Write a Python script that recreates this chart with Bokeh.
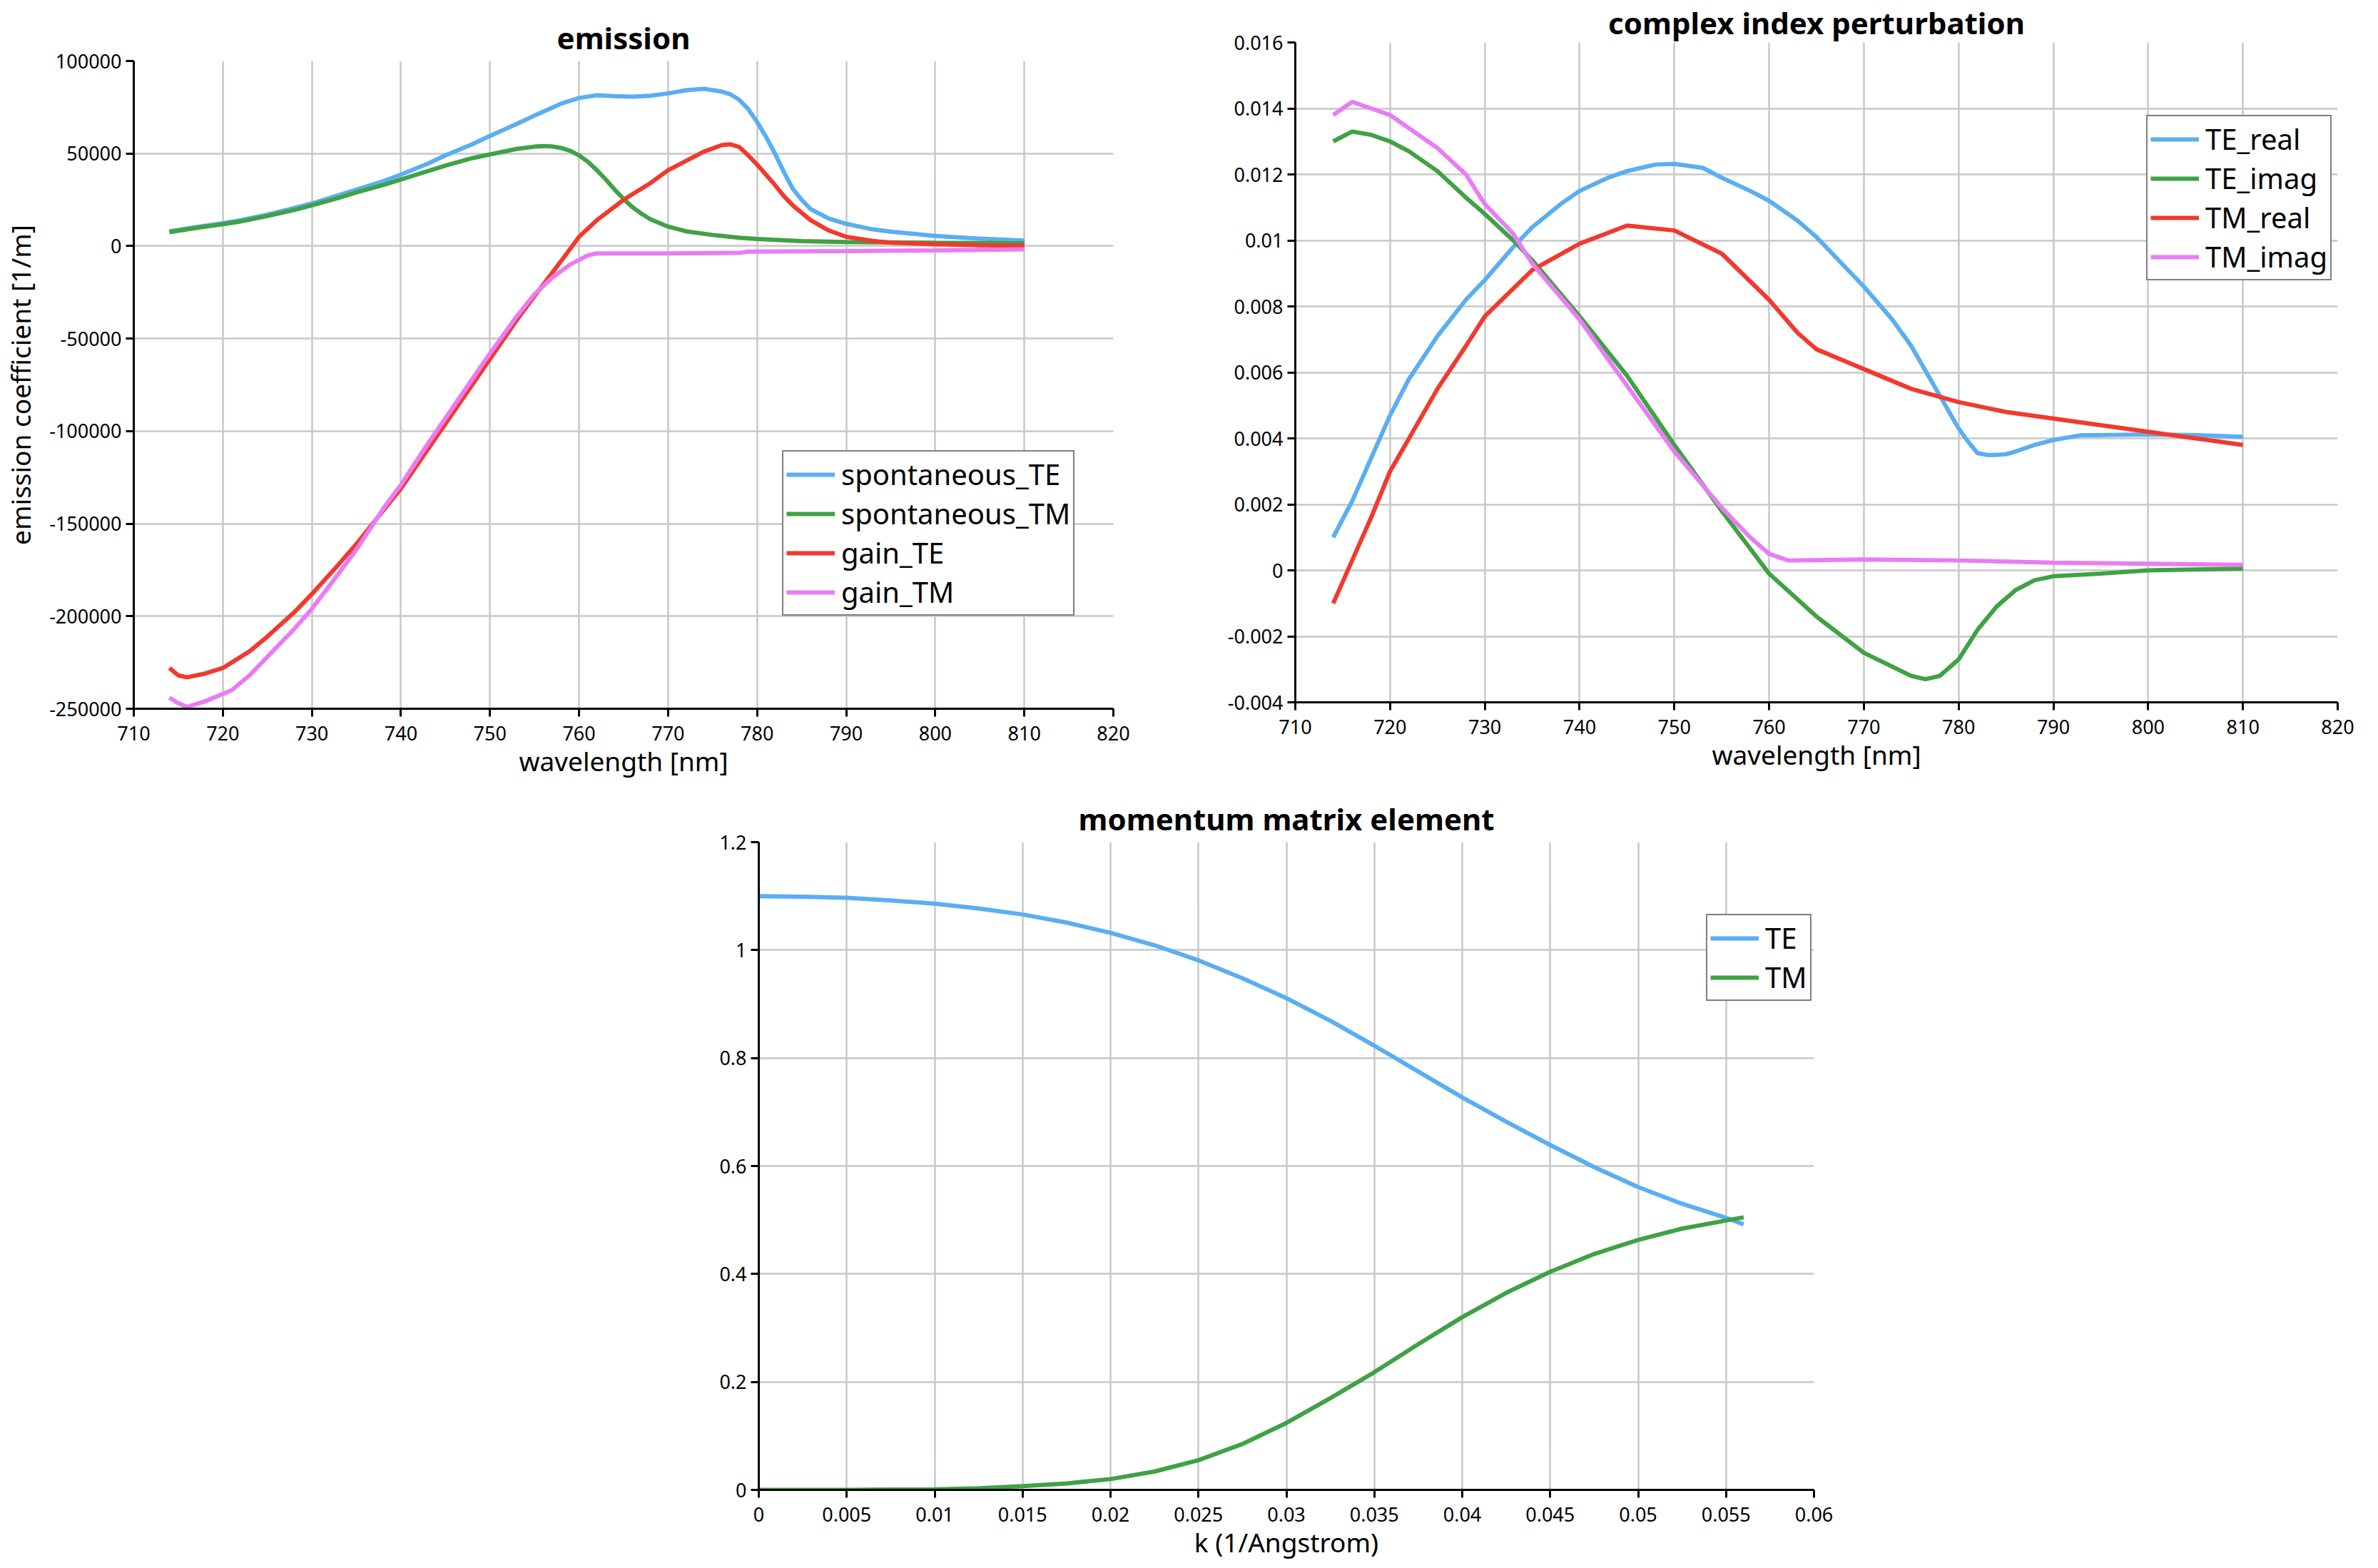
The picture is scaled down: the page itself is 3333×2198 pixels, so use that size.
from bokeh.plotting import figure
from bokeh.layouts import column, row
from bokeh.models import (Spacer, FixedTicker, CustomJSTickFormatter, Range1d,
                          Legend, LegendItem)
from bokeh.embed import file_html
from bokeh.resources import INLINE

# ---------------- emission ----------------
sp_te_x = [714, 716, 718, 720, 722, 725, 728, 730, 733, 735, 738, 740, 743, 745, 748,
           750, 753, 755, 758, 760, 762, 764, 766, 768, 770, 772, 774, 776, 777, 778,
           779, 780, 781, 782, 783, 784, 785, 786, 788, 790, 793, 795, 800, 805, 810]
sp_te_y = [8000, 9500, 11000, 12300, 14000, 17000, 20500, 23000, 27500, 30500, 35000,
           38600, 44500, 49000, 55000, 59500, 66000, 70500, 77000, 80000, 81500, 81000,
           80700, 81200, 82500, 84200, 85000, 83500, 82000, 79000, 74000, 67000, 59000,
           50000, 40000, 31000, 25000, 20000, 15000, 12000, 9000, 7800, 5500, 4000, 3000]

sp_tm_x = [714, 716, 718, 720, 722, 725, 728, 730, 733, 735, 738, 740, 743, 745, 748,
           750, 753, 755, 756, 757, 758, 759, 760, 761, 762, 763, 764, 765, 766, 767,
           768, 770, 772, 775, 778, 780, 785, 790, 800, 810]
sp_tm_y = [7500, 9000, 10500, 11800, 13300, 16200, 19500, 22000, 26000, 29000, 33000,
           36000, 40500, 43500, 47500, 49500, 52500, 53700, 54000, 53800, 53000, 51500,
           49000, 45500, 41000, 36000, 30500, 25500, 21000, 17500, 14500, 10500, 8000,
           6000, 4500, 3800, 2700, 2200, 1800, 1500]

g_te_x = [714, 715, 716, 718, 720, 721, 723, 725, 728, 730, 733, 735, 738, 740, 743,
          745, 748, 750, 753, 755, 758, 760, 762, 765, 768, 770, 772, 774, 776, 777,
          778, 779, 780, 781, 782, 783, 784, 786, 788, 790, 793, 795, 800, 805, 810]
g_te_y = [-228000, -232000, -233000, -231000, -228000, -225000, -219000, -211000,
          -198000, -188000, -172000, -161000, -143000, -131000, -110000, -96000, -75000,
          -61000, -40000, -27000, -8000, 5000, 14000, 25000, 34000, 41000, 46000, 51000,
          54500, 55000, 53500, 49000, 44000, 38500, 33000, 27000, 22000, 14000, 8500,
          5000, 2800, 1800, 1000, 500, 300]

g_tm_x = [714, 715, 716, 718, 720, 721, 723, 725, 728, 730, 733, 735, 738, 740, 743,
          745, 748, 750, 753, 755, 757, 759, 760, 761, 762, 770, 778, 779, 790, 800, 810]
g_tm_y = [-244000, -247000, -249000, -246000, -242000, -240000, -232000, -222000,
          -207000, -196000, -177000, -164000, -142000, -129000, -107000, -93000, -72000,
          -58000, -38000, -26000, -17000, -10000, -7500, -5000, -4000, -4000, -3600,
          -3000, -2700, -2300, -1800]

em_xticks = [710, 720, 730, 740, 750, 760, 770, 780, 790, 800, 810, 820]
em_yticks = [-250000, -200000, -150000, -100000, -50000, 0, 50000, 100000]

# ---------------- complex index perturbation ----------------
te_re_x = [714, 716, 718, 720, 722, 725, 728, 730, 733, 735, 738, 740, 743, 745, 748,
           750, 753, 755, 758, 760, 763, 765, 768, 770, 773, 775, 777, 779, 780, 781,
           782, 783, 784, 785, 786, 788, 790, 793, 795, 800, 805, 810]
te_re_y = [0.0010, 0.0021, 0.0034, 0.0047, 0.0058, 0.0071, 0.0082, 0.0088, 0.0098,
           0.0104, 0.0111, 0.0115, 0.0119, 0.0121, 0.0123, 0.01232, 0.0122, 0.0119,
           0.0115, 0.0112, 0.0106, 0.0101, 0.0092, 0.0086, 0.0076, 0.0068, 0.0058,
           0.0048, 0.0043, 0.0039, 0.00355, 0.0035, 0.0035, 0.00352, 0.0036, 0.0038,
           0.00395, 0.0041, 0.0041, 0.00412, 0.0041, 0.00405]

te_im_x = [714, 716, 718, 720, 722, 725, 728, 730, 733, 735, 740, 745, 750, 755, 760,
           765, 770, 775, 776.5, 778, 780, 782, 784, 786, 788, 790, 795, 800, 810]
te_im_y = [0.0130, 0.0133, 0.0132, 0.0130, 0.0127, 0.0121, 0.0113, 0.0108, 0.0100,
           0.0094, 0.0077, 0.0059, 0.0038, 0.0018, -0.0001, -0.0014, -0.0025, -0.0032,
           -0.0033, -0.0032, -0.0027, -0.0018, -0.0011, -0.0006, -0.0003, -0.00018,
           -0.0001, 0.0, 0.00005]

tm_re_x = [714, 716, 718, 720, 722, 725, 728, 730, 735, 740, 745, 750, 755, 760, 763,
           765, 770, 775, 780, 785, 790, 795, 800, 805, 810]
tm_re_y = [-0.0010, 0.0003, 0.0016, 0.0030, 0.0040, 0.0055, 0.0068, 0.0077, 0.0091,
           0.0099, 0.01045, 0.0103, 0.0096, 0.0082, 0.0072, 0.0067, 0.0061, 0.0055,
           0.0051, 0.0048, 0.0046, 0.0044, 0.0042, 0.0040, 0.0038]

tm_im_x = [714, 716, 718, 720, 722, 725, 728, 730, 733, 735, 740, 745, 750, 755, 758,
           760, 762, 770, 780, 790, 800, 810]
tm_im_y = [0.0138, 0.0142, 0.0140, 0.0138, 0.0134, 0.0128, 0.0120, 0.0111, 0.0102,
           0.0093, 0.0076, 0.0056, 0.0036, 0.0019, 0.0010, 0.0005, 0.0003, 0.00033,
           0.0003, 0.00023, 0.0002, 0.00017]

ci_xticks = [710, 720, 730, 740, 750, 760, 770, 780, 790, 800, 810, 820]
ci_yticks = [-0.004, -0.002, 0, 0.002, 0.004, 0.006, 0.008, 0.01, 0.012, 0.014, 0.016]

# ---------------- momentum matrix element ----------------
k_vals = [0, 0.0025, 0.005, 0.0075, 0.01, 0.0125, 0.015, 0.0175, 0.02, 0.0225, 0.025,
          0.0275, 0.03, 0.0325, 0.035, 0.0375, 0.04, 0.0425, 0.045, 0.0475, 0.05,
          0.0525, 0.055, 0.056]
mm_te = [1.100, 1.099, 1.097, 1.092, 1.086, 1.077, 1.066, 1.051, 1.032, 1.009, 0.981,
         0.948, 0.911, 0.869, 0.823, 0.775, 0.727, 0.682, 0.639, 0.598, 0.561, 0.530,
         0.504, 0.492]
mm_tm = [0.0, 0.0, 0.0, 0.0005, 0.001, 0.003, 0.007, 0.012, 0.020, 0.034, 0.055,
         0.085, 0.124, 0.170, 0.218, 0.270, 0.320, 0.365, 0.404, 0.437, 0.463, 0.484,
         0.499, 0.505]

mm_xticks = [0, 0.005, 0.01, 0.015, 0.02, 0.025, 0.03, 0.035, 0.04, 0.045, 0.05, 0.055, 0.06]
mm_yticks = [0, 0.2, 0.4, 0.6, 0.8, 1, 1.2]

BLUE = "#5aaef2"
GREEN = "#3fa244"
RED = "#f2392e"
VIOLET = "#e97cf5"
FONT = "Noto Sans"
LW = 6


def make_fig(title, xr, yr, xticks, yticks, w, h, bl, br, bt, bb, xlabel, ylabel=None,
             title_standoff=10):
    p = figure(width=w, height=h, x_range=Range1d(*xr), y_range=Range1d(*yr),
               output_backend="svg", toolbar_location=None,
               min_border_left=bl, min_border_right=br, min_border_top=bt,
               min_border_bottom=bb)
    p.outline_line_color = None
    p.background_fill_color = "white"
    p.border_fill_color = "white"
    p.title.text = title
    p.title.text_font = FONT
    p.title.text_font_size = "42px"
    p.title.text_font_style = "bold"
    p.title.align = "center"
    p.title.text_color = "black"
    p.title.standoff = title_standoff
    fmt = CustomJSTickFormatter(code="return String(tick);")
    for ax, ticks in ((p.xaxis[0], xticks), (p.yaxis[0], yticks)):
        ax.ticker = FixedTicker(ticks=ticks)
        ax.formatter = fmt
        ax.major_label_text_font = FONT
        ax.major_label_text_font_size = "27px"
        ax.major_label_text_color = "black"
        ax.axis_line_color = "black"
        ax.axis_line_width = 3
        ax.major_tick_line_color = "black"
        ax.major_tick_line_width = 3
        ax.major_tick_out = 11
        ax.major_tick_in = 0
        ax.minor_tick_line_color = None
        ax.axis_label_text_font = FONT
        ax.axis_label_text_font_size = "37px"
        ax.axis_label_text_font_style = "normal"
        ax.axis_label_text_color = "black"
    p.xaxis[0].major_label_standoff = 13
    p.xaxis[0].axis_label_standoff = 0
    p.yaxis[0].major_label_standoff = 6
    p.yaxis[0].axis_label_standoff = 12
    p.xaxis[0].axis_label = xlabel
    if ylabel:
        p.yaxis[0].axis_label = ylabel
    p.xgrid.ticker = FixedTicker(ticks=xticks[1:-1])
    p.ygrid.ticker = FixedTicker(ticks=yticks[1:-1])
    for g in (p.xgrid[0], p.ygrid[0]):
        g.grid_line_color = "#c8c8c8"
        g.grid_line_width = 2.5
    return p


def add_legend(p, items, loc):
    lg = Legend(items=items, location=loc)
    lg.label_text_font = FONT
    lg.label_text_font_size = "40px"
    lg.label_text_color = "black"
    lg.glyph_width = 68
    lg.glyph_height = 20
    lg.label_standoff = 9
    lg.padding = 4
    lg.spacing = 0
    lg.margin = 0
    lg.border_line_color = "black"
    lg.border_line_width = 2.5
    lg.background_fill_color = "white"
    lg.background_fill_alpha = 1
    p.add_layout(lg)


# emission
p1 = make_fig("emission", (710, 820), (-250000, 100000), em_xticks, em_yticks,
              1650, 1109, 187, 90, 85, 116, "wavelength [nm]", "emission coefficient [1/m]")
r1 = p1.line(sp_te_x, sp_te_y, line_color=BLUE, line_width=LW)
r2 = p1.line(sp_tm_x, sp_tm_y, line_color=GREEN, line_width=LW)
r3 = p1.line(g_te_x, g_te_y, line_color=RED, line_width=LW)
r4 = p1.line(g_tm_x, g_tm_y, line_color=VIOLET, line_width=LW)
add_legend(p1, [LegendItem(label="spontaneous_TE", renderers=[r1]),
                LegendItem(label="spontaneous_TM", renderers=[r2]),
                LegendItem(label="gain_TE", renderers=[r3]),
                LegendItem(label="gain_TM", renderers=[r4])], (909, 130))

# complex index perturbation
p2 = make_fig("complex index perturbation", (710, 820), (-0.004, 0.016), ci_xticks, ci_yticks,
              1683, 1100, 165, 57, 57, 116, "wavelength [nm]", title_standoff=0)
s1 = p2.line(te_re_x, te_re_y, line_color=BLUE, line_width=LW)
s2 = p2.line(te_im_x, te_im_y, line_color=GREEN, line_width=LW)
s3 = p2.line(tm_re_x, tm_re_y, line_color=RED, line_width=LW)
s4 = p2.line(tm_im_x, tm_im_y, line_color=VIOLET, line_width=LW)
add_legend(p2, [LegendItem(label="TE_real", renderers=[s1]),
                LegendItem(label="TE_imag", renderers=[s2]),
                LegendItem(label="TM_real", renderers=[s3]),
                LegendItem(label="TM_imag", renderers=[s4])], (1193, 591))

# momentum matrix element
p3 = make_fig("momentum matrix element", (0, 0.06), (0, 1.2), mm_xticks, mm_yticks,
              1742, 1089, 163, 100, 71, 110, "k (1/Angstrom)")
t1 = p3.line(k_vals, mm_te, line_color=BLUE, line_width=LW)
t2 = p3.line(k_vals, mm_tm, line_color=GREEN, line_width=LW)
add_legend(p3, [LegendItem(label="TE", renderers=[t1]),
                LegendItem(label="TM", renderers=[t2])], (1328, 685))

top = row(column(Spacer(width=1650, height=0), p1),
          column(Spacer(width=1683, height=0), p2))
bottom = row(Spacer(width=900, height=1089), p3)
layout = column(top, bottom)

open("out.html", "w").write(file_html(layout, INLINE))
